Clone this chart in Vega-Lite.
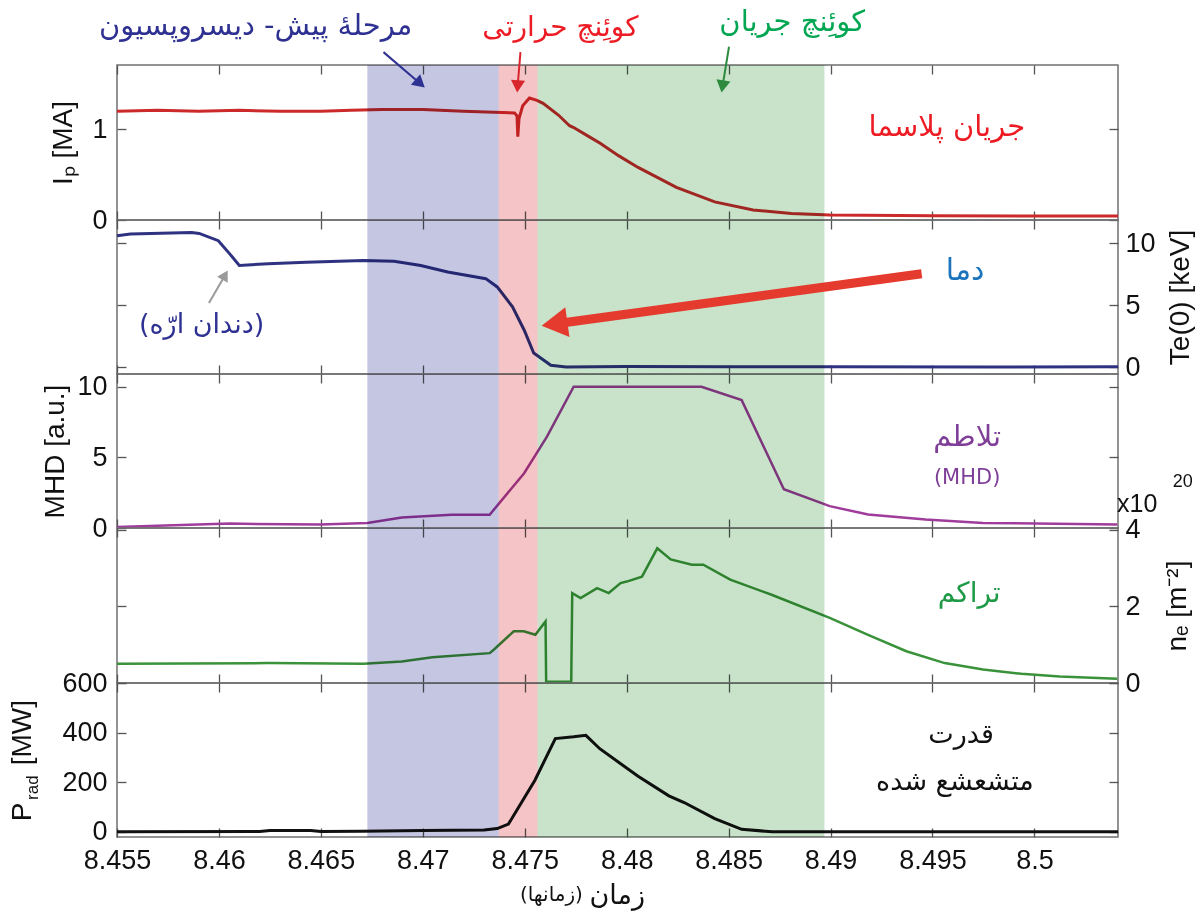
{
"$schema": "https://vega.github.io/schema/vega-lite/v6.json",
"background": "white",
"padding": {"left": 8, "top": 7, "right": 5, "bottom": 5},
"spacing": 0,
"bounds": "flush",
"config": {
  "view": {"stroke": "#707070", "strokeWidth": 1.5},
  "axis": {"grid": false, "domain": false, "labelFont": "Liberation Sans", "labelFontSize": 27, "labelColor": "#111", "labelFlush": false, "titleFont": "Liberation Sans", "titleFontSize": 28, "titleFontWeight": "normal", "titleColor": "#111", "tickColor": "#555", "tickSize": -9, "tickWidth": 1.3, "labelPadding": 19}
},
"datasets": {
  "bands": [
    {"phase": "pre", "start": 8.46728, "end": 8.47372},
    {"phase": "tq", "start": 8.47372, "end": 8.47563},
    {"phase": "cq", "start": 8.47563, "end": 8.4897}
  ],
  "ip": [
    {"t":8.455,"v":1.2},{"t":8.457,"v":1.21},{"t":8.459,"v":1.2},{"t":8.461,"v":1.21},{"t":8.463,"v":1.2},{"t":8.465,"v":1.2},{"t":8.4665,"v":1.21},{"t":8.468,"v":1.22},{"t":8.47,"v":1.22},{"t":8.472,"v":1.2},{"t":8.4735,"v":1.19},{"t":8.4745,"v":1.18},{"t":8.47462,"v":1.15},{"t":8.47466,"v":0.92},{"t":8.47472,"v":1.12},{"t":8.4749,"v":1.26},{"t":8.47523,"v":1.345},{"t":8.4756,"v":1.32},{"t":8.4759,"v":1.287},{"t":8.47665,"v":1.158},{"t":8.4772,"v":1.04},{"t":8.4774,"v":1.02},{"t":8.47815,"v":0.92},{"t":8.4787,"v":0.846},{"t":8.4796,"v":0.71},{"t":8.48056,"v":0.58},{"t":8.4815,"v":0.47},{"t":8.48244,"v":0.36},{"t":8.48432,"v":0.2},{"t":8.4862,"v":0.11},{"t":8.48808,"v":0.073},{"t":8.48996,"v":0.055},{"t":8.495,"v":0.046},{"t":8.5,"v":0.044},{"t":8.5041,"v":0.044}
  ],
  "te": [
    {"t":8.455,"v":10.61},{"t":8.45566,"v":10.75},{"t":8.45866,"v":10.88},{"t":8.45903,"v":10.8},{"t":8.45997,"v":10.21},{"t":8.46053,"v":9.15},{"t":8.461,"v":8.21},{"t":8.46241,"v":8.35},{"t":8.46428,"v":8.48},{"t":8.46709,"v":8.61},{"t":8.46859,"v":8.56},{"t":8.4699,"v":8.21},{"t":8.47122,"v":7.68},{"t":8.47309,"v":7.15},{"t":8.47365,"v":6.48},{"t":8.4744,"v":4.88},{"t":8.47497,"v":3.01},{"t":8.47544,"v":1.15},{"t":8.47628,"v":0.16},{"t":8.47703,"v":0.03},{"t":8.48,"v":0.06},{"t":8.485,"v":0.05},{"t":8.49,"v":0.05},{"t":8.4975,"v":0.02},{"t":8.5041,"v":0.05}
  ],
  "mhd": [
    {"t":8.455,"v":0.07},{"t":8.46053,"v":0.31},{"t":8.46499,"v":0.24},{"t":8.46728,"v":0.35},{"t":8.46897,"v":0.75},{"t":8.4714,"v":0.94},{"t":8.47328,"v":0.94},{"t":8.47497,"v":3.88},{"t":8.47609,"v":6.47},{"t":8.4774,"v":10},{"t":8.48367,"v":10},{"t":8.48564,"v":9.05},{"t":8.48771,"v":2.74},{"t":8.48996,"v":1.55},{"t":8.49184,"v":0.95},{"t":8.49466,"v":0.6},{"t":8.49748,"v":0.36},{"t":8.50406,"v":0.24}
  ],
  "ne": [
    {"t":8.455,"v":0.5},{"t":8.46241,"v":0.52},{"t":8.46709,"v":0.5},{"t":8.46897,"v":0.56},{"t":8.47047,"v":0.67},{"t":8.47328,"v":0.78},{"t":8.47348,"v":0.87},{"t":8.47446,"v":1.35},{"t":8.47495,"v":1.35},{"t":8.47552,"v":1.26},{"t":8.47602,"v":1.61},{"t":8.47605,"v":0.03},{"t":8.47728,"v":0.03},{"t":8.47733,"v":2.35},{"t":8.47774,"v":2.22},{"t":8.47855,"v":2.48},{"t":8.47912,"v":2.35},{"t":8.4797,"v":2.61},{"t":8.48,"v":2.65},{"t":8.48075,"v":2.78},{"t":8.4815,"v":3.52},{"t":8.48216,"v":3.23},{"t":8.4832,"v":3.09},{"t":8.48376,"v":3.09},{"t":8.48508,"v":2.7},{"t":8.48714,"v":2.3},{"t":8.48996,"v":1.7},{"t":8.49184,"v":1.26},{"t":8.49372,"v":0.83},{"t":8.4956,"v":0.52},{"t":8.49748,"v":0.35},{"t":8.49936,"v":0.24},{"t":8.50124,"v":0.17},{"t":8.50406,"v":0.11}
  ],
  "prad": [
    {"t":8.455,"v":0},{"t":8.462,"v":1},{"t":8.4625,"v":5},{"t":8.4645,"v":5},{"t":8.465,"v":1},{"t":8.467,"v":2},{"t":8.47,"v":5},{"t":8.473,"v":7},{"t":8.47365,"v":13},{"t":8.4742,"v":31},{"t":8.4755,"v":208},{"t":8.4765,"v":376},{"t":8.4774,"v":383},{"t":8.478,"v":389},{"t":8.47868,"v":335},{"t":8.48056,"v":224},{"t":8.48207,"v":145},{"t":8.48282,"v":118},{"t":8.48432,"v":53},{"t":8.48564,"v":10},{"t":8.48714,"v":0},{"t":8.5041,"v":0}
  ]
},
"vconcat": [
{
  "width": 1001, "height": 155,
  "resolve": {"axis": {"x": "independent", "y": "independent"}},
  "layer": [
    {"data": {"name": "ip"}, "mark": {"type": "line", "color": "#CC2A2A", "strokeWidth": 3},
     "encoding": {
       "x": {"field": "t", "type": "quantitative", "scale": {"domain": [8.455, 8.5041], "nice": false, "zero": false}, "axis": {"orient": "bottom", "values": [8.455,8.46,8.465,8.47,8.475,8.48,8.485,8.49,8.495,8.5], "labels": false, "title": null}},
       "y": {"field": "v", "type": "quantitative", "scale": {"domain": [0, 1.71], "nice": false, "zero": false}, "axis": {"orient": "left", "values": [0, 1], "title": "Iₚ [MA]", "titleX": -54, "titleAngle": 270, "titleAlign": "center", "titleBaseline": "middle"}}
     }},
    {"data": {"name": "ip"}, "mark": {"type": "line", "strokeOpacity": 0},
     "encoding": {
       "x": {"field": "t", "type": "quantitative", "axis": {"orient": "top", "values": [8.455,8.46,8.465,8.47,8.475,8.48,8.485,8.49,8.495,8.5], "labels": false, "title": null}},
       "y": {"field": "v", "type": "quantitative", "axis": {"orient": "right", "values": [0, 1], "labels": false, "title": null}}
     }},
    {"data": {"name": "bands"}, "mark": {"type": "rect", "blend": "multiply"},
     "encoding": {
       "x": {"field": "start", "type": "quantitative", "axis": null}, "x2": {"field": "end"},
       "color": {"field": "phase", "type": "nominal", "scale": {"domain": ["pre", "tq", "cq"], "range": ["#C5C6E2", "#F4C4C6", "#C8E3CA"]}, "legend": null}
     }},
    {"data": {"values": [{}]}, "mark": {"type": "text", "text": "مرحلهٔ پیش- دیسروپسیون", "font": "DejaVu Sans", "fontSize": 29, "color": "#2E3192", "align": "center", "baseline": "middle"},
     "encoding": {"x": {"datum": 8.4618, "type": "quantitative", "axis": null}, "y": {"datum": 2.139, "type": "quantitative", "axis": null}}},
    {"data": {"values": [{}]}, "mark": {"type": "text", "text": "کوئِنچ حرارتی", "font": "DejaVu Sans", "fontSize": 28, "color": "#ED1C24", "align": "center", "baseline": "middle"},
     "encoding": {"x": {"datum": 8.47675, "type": "quantitative", "axis": null}, "y": {"datum": 2.117, "type": "quantitative", "axis": null}}},
    {"data": {"values": [{}]}, "mark": {"type": "text", "text": "کوئِنچ جریان", "font": "DejaVu Sans", "fontSize": 29, "color": "#00A651", "align": "center", "baseline": "middle"},
     "encoding": {"x": {"datum": 8.48812, "type": "quantitative", "axis": null}, "y": {"datum": 2.18, "type": "quantitative", "axis": null}}},
    {"data": {"values": [{}]}, "mark": {"type": "text", "text": "جریان پلاسما", "font": "DejaVu Sans", "fontSize": 29, "color": "#ED1C24", "align": "center", "baseline": "middle"},
     "encoding": {"x": {"datum": 8.4957, "type": "quantitative", "axis": null}, "y": {"datum": 1.025, "type": "quantitative", "axis": null}}},
    {"data": {"values": [{}]}, "mark": {"type": "rule", "color": "#2E3192", "strokeWidth": 2},
     "encoding": {"x": {"datum": 8.46807, "type": "quantitative", "axis": null}, "y": {"datum": 1.852, "type": "quantitative", "axis": null}, "x2": {"datum": 8.46987}, "y2": {"datum": 1.506}}},
    {"data": {"values": [{}]}, "mark": {"type": "point", "shape": "triangle-up", "filled": true, "size": 200, "angle": 131, "color": "#2E3192", "opacity": 1},
     "encoding": {"x": {"datum": 8.46987, "type": "quantitative", "axis": null}, "y": {"datum": 1.506, "type": "quantitative", "axis": null}}},
    {"data": {"values": [{}]}, "mark": {"type": "rule", "color": "#D8262C", "strokeWidth": 2},
     "encoding": {"x": {"datum": 8.47479, "type": "quantitative", "axis": null}, "y": {"datum": 1.852, "type": "quantitative", "axis": null}, "x2": {"datum": 8.47465}, "y2": {"datum": 1.474}}},
    {"data": {"values": [{}]}, "mark": {"type": "point", "shape": "triangle-up", "filled": true, "size": 200, "angle": 184, "color": "#D8262C", "opacity": 1},
     "encoding": {"x": {"datum": 8.47465, "type": "quantitative", "axis": null}, "y": {"datum": 1.474, "type": "quantitative", "axis": null}}},
    {"data": {"values": [{}]}, "mark": {"type": "rule", "color": "#2E8B3E", "strokeWidth": 2},
     "encoding": {"x": {"datum": 8.48502, "type": "quantitative", "axis": null}, "y": {"datum": 1.911, "type": "quantitative", "axis": null}, "x2": {"datum": 8.4847}, "y2": {"datum": 1.473}}},
    {"data": {"values": [{}]}, "mark": {"type": "point", "shape": "triangle-up", "filled": true, "size": 200, "angle": 189, "color": "#2E8B3E", "opacity": 1},
     "encoding": {"x": {"datum": 8.4847, "type": "quantitative", "axis": null}, "y": {"datum": 1.473, "type": "quantitative", "axis": null}}}
  ]
},
{
  "width": 1001, "height": 154,
  "resolve": {"axis": {"x": "independent", "y": "independent"}},
  "layer": [
    {"data": {"name": "te"}, "mark": {"type": "line", "color": "#2E3280", "strokeWidth": 3},
     "encoding": {
       "x": {"field": "t", "type": "quantitative", "scale": {"domain": [8.455, 8.5041], "nice": false, "zero": false}, "axis": {"orient": "bottom", "values": [8.455,8.46,8.465,8.47,8.475,8.48,8.485,8.49,8.495,8.5], "labels": false, "title": null}},
       "y": {"field": "v", "type": "quantitative", "scale": {"domain": [-0.54, 11.88], "nice": false, "zero": false}, "axis": {"orient": "left", "values": [0, 5, 10], "labels": false, "title": null}}
     }},
    {"data": {"name": "te"}, "mark": {"type": "line", "strokeOpacity": 0},
     "encoding": {
       "x": {"field": "t", "type": "quantitative", "axis": {"orient": "top", "values": [8.455,8.46,8.465,8.47,8.475,8.48,8.485,8.49,8.495,8.5], "labels": false, "title": null}},
       "y": {"field": "v", "type": "quantitative", "axis": {"orient": "right", "values": [0, 5, 10], "labelPadding": 16, "title": "Te(0) [keV]", "titleX": 62, "titleAngle": 270, "titleAlign": "center", "titleBaseline": "middle"}}
     }},
    {"data": {"name": "bands"}, "mark": {"type": "rect", "blend": "multiply"},
     "encoding": {
       "x": {"field": "start", "type": "quantitative", "axis": null}, "x2": {"field": "end"},
       "color": {"field": "phase", "type": "nominal", "legend": null}
     }},
    {"data": {"values": [{}]}, "mark": {"type": "rule", "color": "#E53A2E", "strokeWidth": 9},
     "encoding": {"x": {"datum": 8.49447, "type": "quantitative", "axis": null}, "y": {"datum": 7.54, "type": "quantitative", "axis": null}, "x2": {"datum": 8.47646}, "y2": {"datum": 3.49}}},
    {"data": {"values": [{}]}, "mark": {"type": "point", "shape": "triangle-left", "filled": true, "size": 900, "angle": -8, "color": "#E53A2E", "opacity": 1},
     "encoding": {"x": {"datum": 8.47646, "type": "quantitative", "axis": null}, "y": {"datum": 3.49, "type": "quantitative", "axis": null}}},
    {"data": {"values": [{}]}, "mark": {"type": "rule", "color": "#9A9A9A", "strokeWidth": 2},
     "encoding": {"x": {"datum": 8.45951, "type": "quantitative", "axis": null}, "y": {"datum": 5.19, "type": "quantitative", "axis": null}, "x2": {"datum": 8.4603}, "y2": {"datum": 7.43}}},
    {"data": {"values": [{}]}, "mark": {"type": "point", "shape": "triangle-up", "filled": true, "size": 150, "angle": 30, "color": "#9A9A9A", "opacity": 1},
     "encoding": {"x": {"datum": 8.4603, "type": "quantitative", "axis": null}, "y": {"datum": 7.43, "type": "quantitative", "axis": null}}},
    {"data": {"values": [{}]}, "mark": {"type": "text", "text": "(دندان ارّه)", "font": "DejaVu Sans", "fontSize": 27, "color": "#2E3192", "align": "center", "baseline": "middle"},
     "encoding": {"x": {"datum": 8.45915, "type": "quantitative", "axis": null}, "y": {"datum": 3.39, "type": "quantitative", "axis": null}}},
    {"data": {"values": [{}]}, "mark": {"type": "text", "text": "دما", "font": "DejaVu Sans", "fontSize": 30, "color": "#1C75BC", "align": "center", "baseline": "middle"},
     "encoding": {"x": {"datum": 8.4966, "type": "quantitative", "axis": null}, "y": {"datum": 7.77, "type": "quantitative", "axis": null}}}
  ]
},
{
  "width": 1001, "height": 154,
  "resolve": {"axis": {"x": "independent", "y": "independent"}},
  "layer": [
    {"data": {"name": "mhd"}, "mark": {"type": "line", "color": "#A03C9C", "strokeWidth": 2.5},
     "encoding": {
       "x": {"field": "t", "type": "quantitative", "scale": {"domain": [8.455, 8.5041], "nice": false, "zero": false}, "axis": {"orient": "bottom", "values": [8.455,8.46,8.465,8.47,8.475,8.48,8.485,8.49,8.495,8.5], "labels": false, "title": null}},
       "y": {"field": "v", "type": "quantitative", "scale": {"domain": [0, 10.9], "nice": false, "zero": false}, "axis": {"orient": "left", "values": [0, 5, 10], "title": "MHD [a.u.]", "titleX": -62, "titleAngle": 270, "titleAlign": "center", "titleBaseline": "middle"}}
     }},
    {"data": {"name": "mhd"}, "mark": {"type": "line", "strokeOpacity": 0},
     "encoding": {
       "x": {"field": "t", "type": "quantitative", "axis": {"orient": "top", "values": [8.455,8.46,8.465,8.47,8.475,8.48,8.485,8.49,8.495,8.5], "labels": false, "title": null}},
       "y": {"field": "v", "type": "quantitative", "axis": {"orient": "right", "values": [0, 5, 10], "labels": false, "title": null}}
     }},
    {"data": {"name": "bands"}, "mark": {"type": "rect", "blend": "multiply"},
     "encoding": {
       "x": {"field": "start", "type": "quantitative", "axis": null}, "x2": {"field": "end"},
       "color": {"field": "phase", "type": "nominal", "legend": null}
     }},
    {"data": {"values": [{}]}, "mark": {"type": "text", "text": "تلاطم", "font": "DejaVu Sans", "fontSize": 29, "color": "#7F3F98", "align": "center", "baseline": "middle"},
     "encoding": {"x": {"datum": 8.4967, "type": "quantitative", "axis": null}, "y": {"datum": 6.45, "type": "quantitative", "axis": null}}},
    {"data": {"values": [{}]}, "mark": {"type": "text", "text": "(MHD)", "font": "DejaVu Sans", "fontSize": 21, "color": "#7F3F98", "align": "center", "baseline": "middle"},
     "encoding": {"x": {"datum": 8.4967, "type": "quantitative", "axis": null}, "y": {"datum": 3.55, "type": "quantitative", "axis": null}}}
  ]
},
{
  "width": 1001, "height": 155,
  "resolve": {"axis": {"x": "independent", "y": "independent"}},
  "layer": [
    {"data": {"name": "ne"}, "mark": {"type": "line", "color": "#3A923A", "strokeWidth": 2.5},
     "encoding": {
       "x": {"field": "t", "type": "quantitative", "scale": {"domain": [8.455, 8.5041], "nice": false, "zero": false}, "axis": {"orient": "bottom", "values": [8.455,8.46,8.465,8.47,8.475,8.48,8.485,8.49,8.495,8.5], "labels": false, "title": null}},
       "y": {"field": "v", "type": "quantitative", "scale": {"domain": [0, 4.05], "nice": false, "zero": false}, "axis": {"orient": "left", "values": [0, 2, 4], "labels": false, "title": null}}
     }},
    {"data": {"name": "ne"}, "mark": {"type": "line", "strokeOpacity": 0},
     "encoding": {
       "x": {"field": "t", "type": "quantitative", "axis": {"orient": "top", "values": [8.455,8.46,8.465,8.47,8.475,8.48,8.485,8.49,8.495,8.5], "labels": false, "title": null}},
       "y": {"field": "v", "type": "quantitative", "axis": {"orient": "right", "values": [0, 2, 4], "labelPadding": 16, "title": "nₑ [m⁻²]", "titleX": 59, "titleAngle": 270, "titleAlign": "center", "titleBaseline": "middle"}}
     }},
    {"data": {"name": "bands"}, "mark": {"type": "rect", "blend": "multiply"},
     "encoding": {
       "x": {"field": "start", "type": "quantitative", "axis": null}, "x2": {"field": "end"},
       "color": {"field": "phase", "type": "nominal", "legend": null}
     }},
    {"data": {"values": [{}]}, "mark": {"type": "text", "text": "تراکم", "font": "DejaVu Sans", "fontSize": 28, "color": "#1E9A47", "align": "center", "baseline": "middle"},
     "encoding": {"x": {"datum": 8.4968, "type": "quantitative", "axis": null}, "y": {"datum": 2.33, "type": "quantitative", "axis": null}}},
    {"data": {"values": [{}]}, "mark": {"type": "text", "text": "x10", "font": "Liberation Sans", "fontSize": 25, "color": "#111", "align": "left", "baseline": "alphabetic"},
     "encoding": {"x": {"datum": 8.50405, "type": "quantitative", "axis": null}, "y": {"datum": 4.47, "type": "quantitative", "axis": null}}},
    {"data": {"values": [{}]}, "mark": {"type": "text", "text": "20", "font": "Liberation Sans", "fontSize": 18, "color": "#111", "align": "left", "baseline": "alphabetic"},
     "encoding": {"x": {"datum": 8.50678, "type": "quantitative", "axis": null}, "y": {"datum": 5.12, "type": "quantitative", "axis": null}}}
  ]
},
{
  "width": 1001, "height": 154,
  "resolve": {"axis": {"x": "independent", "y": "independent"}},
  "layer": [
    {"data": {"name": "prad"}, "mark": {"type": "line", "color": "#111111", "strokeWidth": 3},
     "encoding": {
       "x": {"field": "t", "type": "quantitative", "scale": {"domain": [8.455, 8.5041], "nice": false, "zero": false}, "axis": {"orient": "bottom", "values": [8.455,8.46,8.465,8.47,8.475,8.48,8.485,8.49,8.495,8.5], "format": "~g", "title": null}},
       "y": {"field": "v", "type": "quantitative", "scale": {"domain": [-21, 600], "nice": false, "zero": false}, "axis": {"orient": "left", "values": [0, 200, 400, 600], "title": null}}
     }},
    {"data": {"name": "prad"}, "mark": {"type": "line", "strokeOpacity": 0},
     "encoding": {
       "x": {"field": "t", "type": "quantitative", "axis": {"orient": "top", "values": [8.455,8.46,8.465,8.47,8.475,8.48,8.485,8.49,8.495,8.5], "labels": false, "title": null}},
       "y": {"field": "v", "type": "quantitative", "axis": {"orient": "right", "values": [0, 200, 400, 600], "labels": false, "title": null}}
     }},
    {"data": {"name": "bands"}, "mark": {"type": "rect", "blend": "multiply"},
     "encoding": {
       "x": {"field": "start", "type": "quantitative", "axis": null}, "x2": {"field": "end"},
       "color": {"field": "phase", "type": "nominal", "legend": null}
     }},
    {"data": {"values": [{}]}, "mark": {"type": "text", "text": "قدرت", "font": "DejaVu Sans", "fontSize": 27, "color": "#111", "align": "center", "baseline": "middle"},
     "encoding": {"x": {"datum": 8.4964, "type": "quantitative", "axis": null}, "y": {"datum": 389, "type": "quantitative", "axis": null}}},
    {"data": {"values": [{}]}, "mark": {"type": "text", "text": "متشعشع شده", "font": "DejaVu Sans", "fontSize": 27, "color": "#111", "align": "center", "baseline": "middle"},
     "encoding": {"x": {"datum": 8.4961, "type": "quantitative", "axis": null}, "y": {"datum": 200, "type": "quantitative", "axis": null}}},
    {"data": {"values": [{}]}, "mark": {"type": "text", "text": "زمان", "font": "DejaVu Sans", "fontSize": 27, "color": "#111", "align": "center", "baseline": "middle"},
     "encoding": {"x": {"datum": 8.47954, "type": "quantitative", "axis": null}, "y": {"datum": -258, "type": "quantitative", "axis": null}}},
    {"data": {"values": [{}]}, "mark": {"type": "text", "text": "(زمانها)", "font": "DejaVu Sans", "fontSize": 20, "color": "#111", "align": "center", "baseline": "middle"},
     "encoding": {"x": {"datum": 8.47631, "type": "quantitative", "axis": null}, "y": {"datum": -254, "type": "quantitative", "axis": null}}},
    {"data": {"values": [{}]}, "mark": {"type": "text", "text": "P", "font": "Liberation Sans", "fontSize": 28, "color": "#111", "align": "center", "baseline": "alphabetic", "angle": 270},
     "encoding": {"x": {"datum": 8.45079, "type": "quantitative", "axis": null}, "y": {"datum": 80, "type": "quantitative", "axis": null}}},
    {"data": {"values": [{}]}, "mark": {"type": "text", "text": "rad", "font": "Liberation Sans", "fontSize": 17, "color": "#111", "align": "center", "baseline": "alphabetic", "angle": 270},
     "encoding": {"x": {"datum": 8.45112, "type": "quantitative", "axis": null}, "y": {"datum": 178, "type": "quantitative", "axis": null}}},
    {"data": {"values": [{}]}, "mark": {"type": "text", "text": "[MW]", "font": "Liberation Sans", "fontSize": 28, "color": "#111", "align": "center", "baseline": "alphabetic", "angle": 270},
     "encoding": {"x": {"datum": 8.45079, "type": "quantitative", "axis": null}, "y": {"datum": 400, "type": "quantitative", "axis": null}}}
  ]
}
]
}
